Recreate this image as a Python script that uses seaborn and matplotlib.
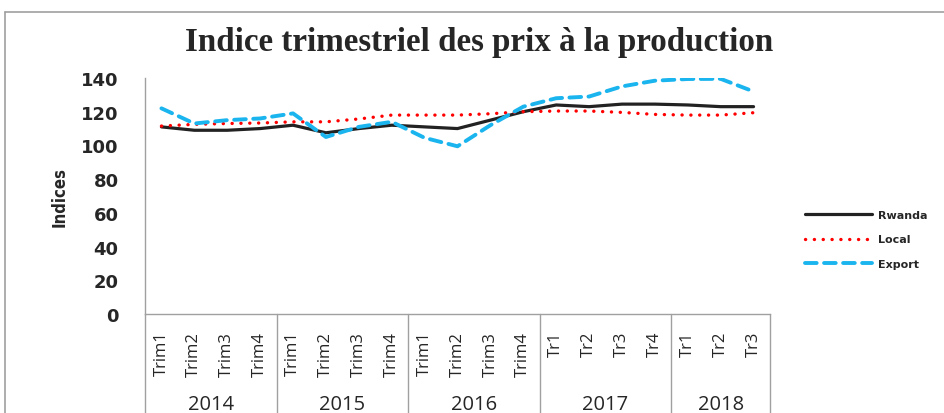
import numpy as np
import pandas as pd
import matplotlib
matplotlib.use("Agg")
import matplotlib.pyplot as plt
import seaborn as sns
from matplotlib.lines import Line2D
import matplotlib.transforms as mtransforms

# ---------------- data ----------------
years = ["2014", "2015", "2016", "2017", "2018"]
quarters = [
    ["Trim1", "Trim2", "Trim3", "Trim4"],
    ["Trim1", "Trim2", "Trim3", "Trim4"],
    ["Trim1", "Trim2", "Trim3", "Trim4"],
    ["Tr1", "Tr2", "Tr3", "Tr4"],
    ["Tr1", "Tr2", "Tr3"],
]
rwanda = [111, 109, 109, 110, 112, 107.5, 110, 112, 111, 110, 115, 120, 124, 123, 124.5, 124.5, 124, 123, 123]
local = [111.5, 112.5, 113, 113.3, 114, 114, 115.7, 118, 118, 118, 118.8, 120, 120.4, 120.4, 119.6, 118.4, 118, 118, 119.4]
export = [122, 113, 115, 116, 119, 105, 111, 114, 104.5, 99.5, 112, 123, 128, 129, 135, 138.4, 139.4, 139.5, 132]

tick_labels = [q for grp in quarters for q in grp]
n = len(tick_labels)
xpos = np.arange(n)

df = pd.DataFrame({
    "x": np.concatenate([xpos, xpos, xpos]),
    "value": rwanda + local + export,
    "serie": ["Rwanda"] * n + ["Local"] * n + ["Export"] * n,
})

sns.set_theme(style="white")
plt.rcParams["font.family"] = ["DejaVu Sans"]

fig = plt.figure(figsize=(9.44, 4.14), dpi=100)
ax = fig.add_axes([145 / 944, 1 - 315 / 414, (770 - 145) / 944, (315 - 79) / 414])

styles = {
    "Rwanda": dict(color="#222222", lw=2.3, ls="-"),
    "Local": dict(color="#ff0000", lw=2.4, ls=(0, (0.05, 2.6))),
    "Export": dict(color="#1ab4ee", lw=2.8, ls=(0, (3.0, 1.9))),
}
handles = []
for name in ["Rwanda", "Local", "Export"]:
    st = styles[name]
    sub = df[df["serie"] == name]
    sns.lineplot(data=sub, x="x", y="value", ax=ax, color=st["color"],
                 linewidth=st["lw"], linestyle=st["ls"], legend=False)
    line = ax.lines[-1]
    line.set_dash_capstyle("round")
    line.set_solid_capstyle("round")
    handles.append(Line2D([0], [0], color=st["color"], lw=st["lw"], ls=st["ls"],
                          dash_capstyle="round", label=name))

ax.set_xlim(-0.5, n - 0.5)
ax.set_ylim(0, 140)
ax.set_yticks(np.arange(0, 141, 20))
ax.set_yticklabels([str(v) for v in range(0, 141, 20)], fontsize=13, fontweight="bold",
                   family="DejaVu Sans")
ax.tick_params(axis="y", length=0, pad=19)
ax.set_xticks(xpos)
ax.set_xticklabels(tick_labels, rotation=90, fontsize=12, family="Open Sans")
ax.tick_params(axis="x", length=0, pad=12)
ax.set_xlabel("")
ax.set_ylabel("Indices", fontsize=12, fontweight="bold", fontstretch="condensed",
              family="DejaVu Sans", labelpad=9)

for s in ["top", "right"]:
    ax.spines[s].set_visible(False)
for s in ["left", "bottom"]:
    ax.spines[s].set_color("#a0a0a0")
    ax.spines[s].set_linewidth(1.0)

# year separators and labels
trans = mtransforms.blended_transform_factory(ax.transData, ax.transAxes)
bounds = np.cumsum([0] + [len(g) for g in quarters]) - 0.5
for b in bounds:
    ax.plot([b, b], [0, -0.45], transform=trans, color="#a0a0a0", lw=1.0, clip_on=False)
for i, y in enumerate(years):
    c = (bounds[i] + bounds[i + 1]) / 2
    ax.text(c, -0.38, y, transform=trans, ha="center", va="center", fontsize=14.5,
            family="Open Sans")

# title
fig.text(479 / 944, 1 - 42 / 414, "Indice trimestriel des prix à la production",
         ha="center", va="center", fontsize=23.8, fontweight="bold", family="Liberation Serif")

# legend
fig.legend(handles=handles, loc="upper left", bbox_to_anchor=(795 / 944, 1 - 201 / 414),
           frameon=False, prop=dict(size=8, weight="bold"), handlelength=6,
           labelspacing=1.3, handletextpad=0.6)

# chart border (left and top)
fig.add_artist(Line2D([5 / 944, 5 / 944], [0, 1 - 13 / 414], transform=fig.transFigure,
                      color="#a0a0a0", lw=1.2))
fig.add_artist(Line2D([5 / 944, 1], [1 - 13 / 414, 1 - 13 / 414], transform=fig.transFigure,
                      color="#a0a0a0", lw=1.2))

fig.savefig("out.png", dpi=100)
